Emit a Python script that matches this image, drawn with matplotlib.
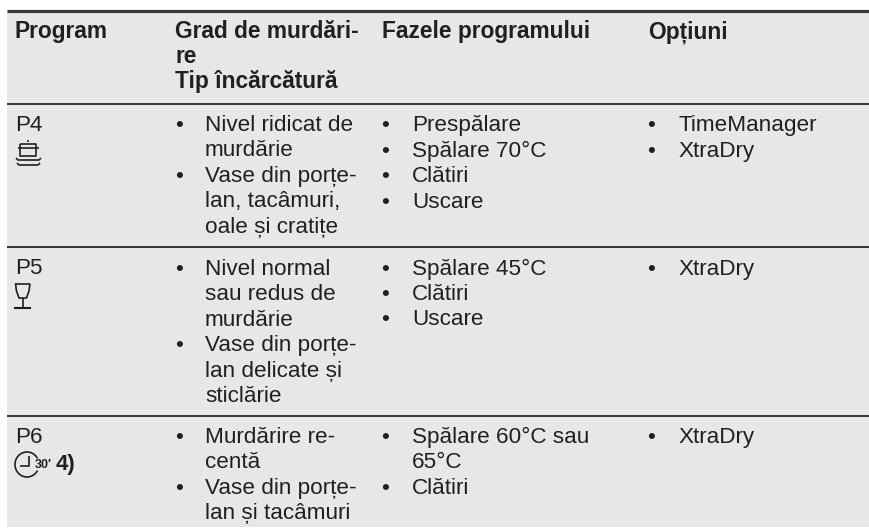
import matplotlib
matplotlib.use("Agg")
import matplotlib.pyplot as plt
from matplotlib.patches import Rectangle, Arc

W, H = 870, 528
BG = "#e6e7e9"
INK = "#231f20"
RULE = "#3a3a3a"
FONT = "Liberation Sans"
FS = 16.2
FS_HEAD = 16.4
LH = 25.5
LH_HEAD = 25

headers = [
    (15, 38, ["Program"]),
    (175.5, 38, ["Grad de murdări-", "re", "Tip încărcătură"]),
    (382.5, 38, ["Fazele programului"]),
    (648.5, 38, ["Opțiuni"]),
]
programs = [("P4", 131), ("P5", 274), ("P6", 443)]
soil_lines = [
    (131, ["Nivel ridicat de", "murdărie"]),
    (182, ["Vase din porțe-", "lan, tacâmuri,", "oale și cratițe"]),
    (275, ["Nivel normal", "sau redus de", "murdărie"]),
    (351, ["Vase din porțe-", "lan delicate și", "sticlărie"]),
    (443, ["Murdărire re-", "centă"]),
    (494, ["Vase din porțe-", "lan și tacâmuri"]),
]
phase_lines = [
    (131, ["Prespălare"]), (157, ["Spălare 70°C"]), (182, ["Clătiri"]), (208, ["Uscare"]),
    (275, ["Spălare 45°C"]), (300, ["Clătiri"]), (325, ["Uscare"]),
    (443, ["Spălare 60°C sau", "65°C"]), (494, ["Clătiri"]),
]
option_lines = [
    (131, ["TimeManager"]), (157, ["XtraDry"]),
    (275, ["XtraDry"]),
    (443, ["XtraDry"]),
]
rules_y = [(11, 3.2), (103.5, 2.0), (247, 2.0), (416, 2.0)]

fig = plt.figure(figsize=(W / 100, H / 100), dpi=100)
ax = fig.add_axes([0, 0, 1, 1])
ax.set_xlim(0, W)
ax.set_ylim(H, 0)
ax.axis("off")

ax.add_patch(Rectangle((7, 11), W - 7, H - 1 - 11, fc=BG, ec="none", zorder=0))
for y, lw in rules_y:
    ax.plot([7, W], [y, y], color=RULE, lw=lw * 0.72, solid_capstyle="butt", zorder=1)


def put(x, y, s, bold=False, size=FS):
    ax.text(x, y, s, family=FONT, fontsize=size, color=INK, va="baseline", ha="left",
            fontweight="bold" if bold else "normal")


for x, y, lines in headers:
    for i, s in enumerate(lines):
        put(x, y + i * LH_HEAD, s, bold=True, size=FS_HEAD)
for s, y in programs:
    put(15, y, s)


def bullets(items, xb, xt):
    for y, lines in items:
        put(xb, y, "•")
        for i, s in enumerate(lines):
            put(xt, y + i * LH, s)


bullets(soil_lines, 175.5, 205)
bullets(phase_lines, 381.5, 412)
bullets(option_lines, 647.5, 678.5)

# pot-and-plates icon
k = dict(color=INK, lw=1.2, solid_capstyle="butt", zorder=3)
ax.plot([20, 36, 36, 20, 20], [143.5, 143.5, 156, 156, 143.5], **k)
ax.plot([18, 39], [148, 148], **k)
ax.plot([28.5, 28.5], [140, 142], **k)
ax.plot([16, 18, 39, 41], [158, 160, 160, 158], **k)
ax.plot([17, 19, 38, 40], [163, 165, 165, 163], **k)

# wine-glass icon
ax.plot([15.5, 30], [283.5, 283.5], **k)
ax.plot([15.5, 16.5, 19, 26.5, 29, 30], [283.5, 291, 298, 298, 291, 283.5], **k)
ax.plot([23, 23], [298, 308], **k)
ax.plot([15, 30.5], [308, 308], color=INK, lw=1.5, zorder=3)

# 30-minute clock icon
ax.add_patch(Arc((27, 464.5), 24, 25, theta1=30, theta2=330, ec=INK, lw=1.2, zorder=3))
ax.plot([20, 29, 29], [466, 466, 456], **k)
put(35, 468, "30′", bold=True, size=9)
put(56, 470, "4)", bold=True, size=16)

fig.savefig("out.png", dpi=100)
